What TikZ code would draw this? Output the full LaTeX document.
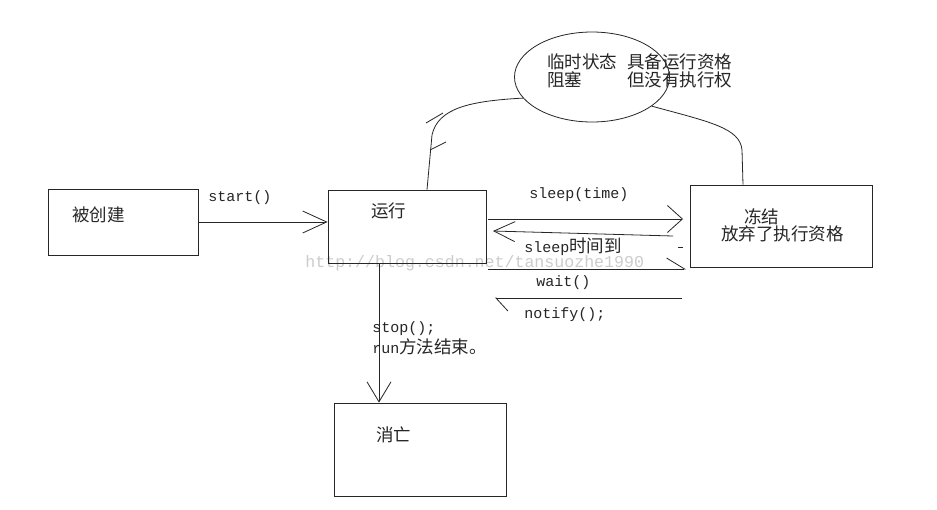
\documentclass[tikz,border=0pt]{standalone}
\usepackage{fontspec}
\setmonofont{Liberation Mono}
\newfontfamily\cjk{Noto Sans CJK SC}
\usetikzlibrary{arrows.meta,shapes.geometric}
\newcommand{\cjkf}{\cjk\fontsize{17.5}{20}\selectfont}
\begin{document}
\begin{tikzpicture}[x=1pt,y=-1pt, line width=0.8pt, draw=black!85,
  box/.style={draw, rectangle, inner sep=0pt},
  cj/.style={font=\cjkf, inner sep=0pt, anchor=west, text=black!85},
  mono/.style={font=\ttfamily\fontsize{15}{18}\selectfont, inner sep=0pt, anchor=west, text=black!85},
  wm/.style={font=\ttfamily\fontsize{16.6}{18}\selectfont, inner sep=0pt, anchor=west, text=black!20}]
\useasboundingbox[fill=white] (0,0) rectangle (937,509);

% watermark
\node[wm] (wmark) at (305,263) {http://blog.csdn.net/tansuozhe1990};

% boxes
\node[box, minimum width=150pt, minimum height=66pt] (created) at (123,222) {};
\node[box, minimum width=158pt, minimum height=73pt] (run) at (407,226.5) {};
\node[box, minimum width=182pt, minimum height=82pt] (frozen) at (781,226) {};
\node[box, minimum width=172pt, minimum height=93pt] (dead) at (420,449.5) {};
\node[draw, ellipse, minimum width=155pt, minimum height=90pt, inner sep=0pt] (blk) at (592,77) {};

% box texts
\node[cj] (tcreated) at (72,215) {被创建};
\node[cj] (trun) at (371,211) {运行};
\node[cj] (tfrozen1) at (744,217) {冻结};
\node[cj] (tfrozen2) at (721,234) {放弃了执行资格};
\node[cj] (tdead) at (376,435) {消亡};
\node[cj] (tblk1) at (547,62) {临时状态};
\node[cj] (tblk2) at (547,80) {阻塞};
\node[cj] (tblk3) at (627,62) {具备运行资格};
\node[cj] (tblk4) at (627,80) {但没有执行权};

% connector labels
\node[mono] (lstart) at (208,198) {start()};
\node[mono] (lsleep) at (529,195) {sleep(time)};
\node[mono] (lsleepend) at (524,247) {sleep{\cjkf 时间到}};
\node[mono] (lwait) at (536,283) {wait()};
\node[mono] (lnotify) at (524,315) {notify();};
\node[mono] (lstop) at (372,329) {stop();};
\node[mono] (lrunend) at (372,347) {run{\cjkf 方法结束。}};

% coordinates
\coordinate (lx) at (427,0);
\coordinate (rx) at (743,0);
\coordinate (vx) at (379,0);
\coordinate (a1s) at (488,219);
\coordinate (a1e) at (683,219);
\coordinate (a2s) at (673,236);
\coordinate (a2e) at (493,231);
\coordinate (a3s) at (488,269);
\coordinate (a3e) at (686,269);
\coordinate (a4s) at (682,298);
\coordinate (a4e) at (495,298);

% start()
\draw[-{Straight Barb[length=24pt,width=22pt]}] (created.east) -- (created.east -| run.west);
% to dead
\draw[-{Straight Barb[length=20pt,width=24pt]}] (run.south -| vx) -- (dead.north -| vx);
% sleep(time)
\draw[-{Straight Barb[length=15pt,width=27pt]}] (a1s) -- (a1e);
% sleep end
\draw[-{Straight Barb[length=21pt,width=20pt]}] (a2s) -- (a2e);
% wait
\draw[-{Straight Barb[harpoon,length=18pt,width=22pt]}] (a3s) -- (a3e);
% notify
\draw[-{Straight Barb[harpoon,length=12pt,width=26pt]}] (a4s) -- (a4e);
\draw (678,247) -- (683,247);

% curves to the blocked state
\draw (blk.197) .. controls (470,101) and (438,108) .. (432,135) -- (run.north -| lx);
\draw (426,123) -- (443,113);
\draw (430,150) -- (446,142);
\draw (blk.334) .. controls (710,122) and (740,128) .. (742,150) -- (frozen.north -| rx);
\end{tikzpicture}
\end{document}
